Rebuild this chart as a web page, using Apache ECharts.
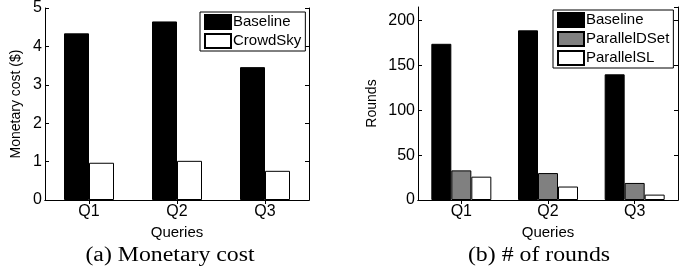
<!DOCTYPE html>
<html>
<head>
<meta charset="utf-8">
<script src="https://cdn.jsdelivr.net/npm/echarts@6/dist/echarts.min.js"></script>
<style>
  html, body { margin: 0; padding: 0; background: #fff; }
  #main { width: 697px; height: 277px; }
</style>
</head>
<body>
<div id="main"></div>
<script>
// data
const queries = ["Q1", "Q2", "Q3"];
const costBaseline = [4.34, 4.65, 3.46];
const costCrowdSky = [0.97, 1.02, 0.76];
const roundsBaseline = [174, 189, 140];
const roundsParallelDSet = [33, 30, 19];
const roundsParallelSL = [26, 15, 6];

const font = "Liberation Sans";

// axis helpers, MATLAB-ish boxed look (ticks inside, on all four sides)
function xAx(grid, pos, name) {
  return {
    type: "category", gridIndex: grid, position: pos, data: queries,
    axisLine: { lineStyle: { color: "#000", width: 1 } },
    axisTick: { show: true, inside: true, length: 4, alignWithLabel: true, lineStyle: { color: "#000" } },
    axisLabel: { show: pos === "bottom", color: "#000", fontSize: 16, fontFamily: font, margin: 4 },
    name: name || "", nameLocation: "middle", nameGap: 21,
    nameTextStyle: { color: "#000", fontSize: 15, fontFamily: font },
    splitLine: { show: false }
  };
}
function yAx(grid, pos, max, interval, name, gap) {
  return {
    type: "value", gridIndex: grid, position: pos, min: 0, max: max, interval: interval,
    axisLine: { show: true, lineStyle: { color: "#000", width: 1 } },
    axisTick: { show: true, inside: true, length: 4, lineStyle: { color: "#000" } },
    axisLabel: { show: pos === "left", color: "#000", fontSize: 16, fontFamily: font, margin: 3, showMaxLabel: max % interval === 0 },
    name: name || "", nameLocation: "middle", nameGap: gap || 0,
    nameTextStyle: { color: "#000", fontSize: 14, fontFamily: font },
    splitLine: { show: false }
  };
}
function bar(name, data, color, xi, yi, w) {
  return {
    name: name, type: "bar", data: data, xAxisIndex: xi, yAxisIndex: yi,
    barWidth: w, barGap: "0%",
    itemStyle: { color: color, borderColor: "#000", borderWidth: 1 },
    emphasis: { disabled: true }, animation: false
  };
}
const legendBase = {
  orient: "vertical", icon: "rect", itemWidth: 26, itemHeight: 14, itemGap: 3,
  borderColor: "#000", borderWidth: 1, padding: [2, 4, 2, 4],
  textStyle: { color: "#000", fontSize: 15, lineHeight: 16, fontFamily: font, padding: [0, 0, 0, -3] },
  backgroundColor: "#fff", selectedMode: false
};

const chart = echarts.init(document.getElementById("main"), null, { renderer: "canvas" });
chart.setOption({
  animation: false,
  grid: [
    { left: 45, right: 388, top: 7, bottom: 77 },
    { left: 418, right: 19, top: 7, bottom: 77 }
  ],
  xAxis: [xAx(0, "bottom", "Queries"), xAx(0, "top"), xAx(1, "bottom", "Queries"), xAx(1, "top")],
  yAxis: [
    yAx(0, "left", 5, 1, "Monetary cost ($)", 22), yAx(0, "right", 5, 1),
    yAx(1, "left", 215, 50, "Rounds", 39), yAx(1, "right", 215, 50)
  ],
  legend: [
    Object.assign({}, legendBase, { left: 200, top: 12, data: ["Baseline", "CrowdSky"] }),
    Object.assign({}, legendBase, { left: 553, top: 10, data: ["Baseline", "ParallelDSet", "ParallelSL"] })
  ],
  series: [
    bar("Baseline", costBaseline, "#000", 0, 0, 25),
    bar("CrowdSky", costCrowdSky, "#fff", 0, 0, 25),
    bar("Baseline", roundsBaseline, "#000", 2, 2, 20),
    bar("ParallelDSet", roundsParallelDSet, "#808080", 2, 2, 20),
    bar("ParallelSL", roundsParallelSL, "#fff", 2, 2, 20)
  ],
  graphic: [
    { type: "text", x: 170, y: 256, scaleX: 1.19,
      style: { text: "(a) Monetary cost", font: "20px 'Liberation Serif'", fill: "#000", align: "center", verticalAlign: "middle" } },
    { type: "text", x: 539, y: 256, scaleX: 1.19,
      style: { text: "(b) # of rounds", font: "20px 'Liberation Serif'", fill: "#000", align: "center", verticalAlign: "middle" } }
  ]
});
</script>
</body>
</html>
